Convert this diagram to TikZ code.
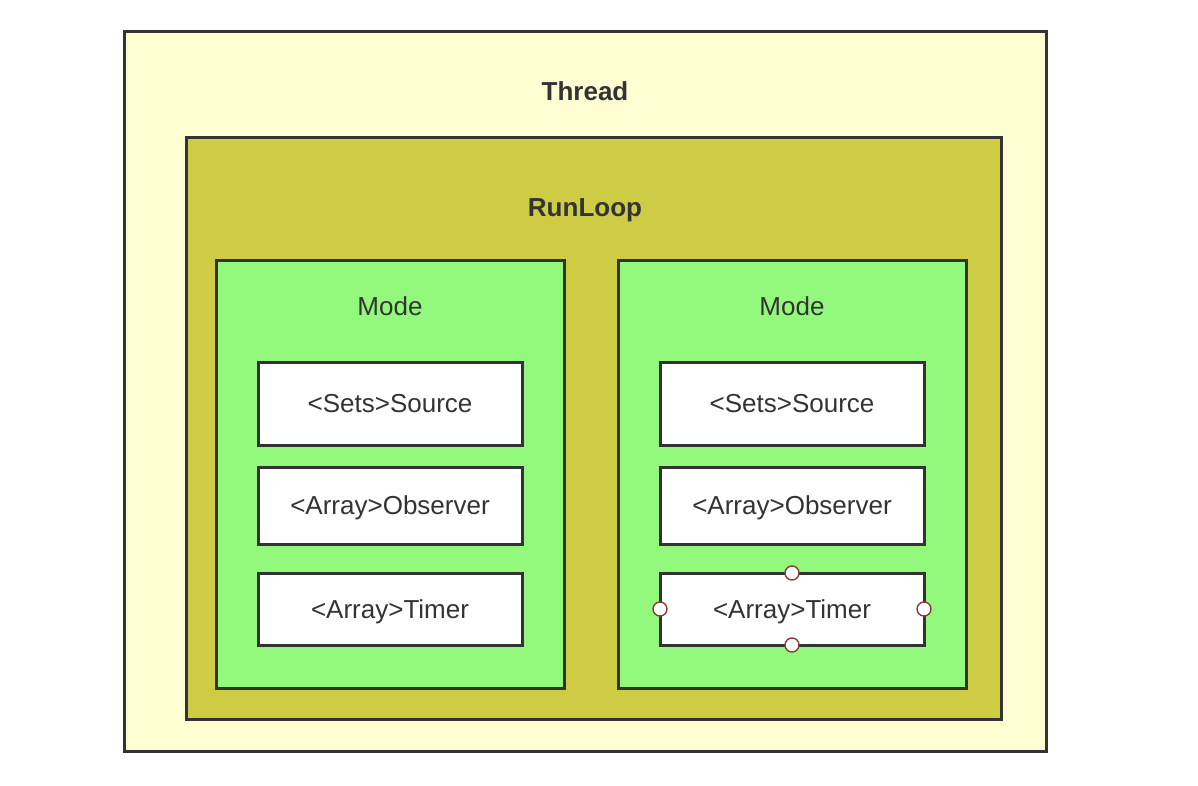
\documentclass[tikz,border=0pt]{standalone}
\usepackage{fontspec}
\setmainfont{Liberation Sans}
\definecolor{threadbg}{HTML}{FFFDD2}
\definecolor{loopbg}{HTML}{CDCC44}
\definecolor{modebg}{HTML}{92F97C}
\definecolor{edge}{HTML}{333333}
\definecolor{handle}{HTML}{8B3A3A}
\begin{document}
\begin{tikzpicture}[x=0.5pt,y=-0.5pt,
    box/.style={draw=edge,line width=1.5pt,inner sep=0pt,outer sep=0pt},
    title/.style={text=edge,text depth=0pt,font=\fontsize{13}{15}\selectfont\bfseries},
    label/.style={text=edge,text depth=0pt,font=\fontsize{13}{15}\selectfont},
    item/.style={box,fill=white,minimum width=132pt,label},
    handle/.style={circle,draw=handle,fill=white,line width=0.7pt,minimum size=7pt,inner sep=0pt}]
    \useasboundingbox (0,0) rectangle (1198,786);

    % containers
    \node[box,fill=threadbg,minimum width=461pt,minimum height=359.5pt] (thread) at (585,391.5) {};
    \node[title] (threadname) at (585,91) {Thread};
    \node[box,fill=loopbg,minimum width=407.5pt,minimum height=290.5pt] (runloop) at (593.5,428.5) {};
    \node[title] (runloopname) at (585,208) {RunLoop};

    % one mode on each side
    \foreach \m/\x in {left/390, right/792} {
        \node[box,fill=modebg,minimum width=174pt,minimum height=214pt] (mode-\m) at (\x,474) {};
        \node[label] (modename-\m) at (\x,306) {Mode};
        \node[item,minimum height=41.5pt] (source-\m) at (\x,403.5) {<Sets>Source};
        \node[item,minimum height=38.5pt] (observer-\m) at (\x,505.5) {<Array>Observer};
        \node[item,minimum height=36pt] (timer-\m) at (\x,609) {<Array>Timer};
    }

    % selection handles
    \foreach \a in {north,south,east,west}
        \node[handle] (handle-\a) at (timer-right.\a) {};
\end{tikzpicture}
\end{document}
